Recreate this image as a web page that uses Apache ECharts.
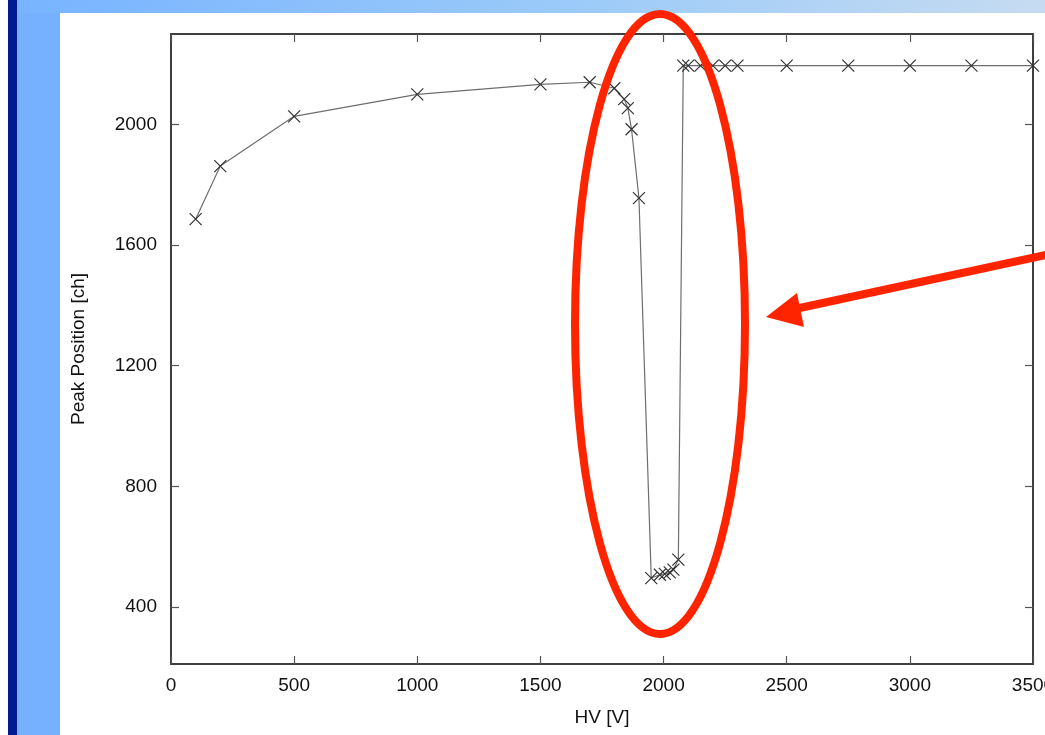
<!DOCTYPE html>
<html>
<head>
<meta charset="utf-8">
<script src="https://cdn.jsdelivr.net/npm/echarts@6/dist/echarts.min.js"></script>
<style>
html,body{margin:0;padding:0;background:#fff;}
#chart{width:1045px;height:735px;}
</style>
</head>
<body>
<div id="chart"></div>
<script>
// HV [V]
const hvValues = [100, 200, 500, 1000, 1500, 1700, 1800, 1840, 1855, 1870, 1900,
  1950, 1985, 2005, 2025, 2040, 2060,
  2080, 2100, 2150, 2200, 2250, 2300, 2500, 2750, 3000, 3250, 3500];
// Peak Position [ch]
const peakValues = [1686, 1862, 2027, 2100, 2133, 2140, 2120, 2084, 2054, 1984, 1756,
  496, 507, 510, 515, 524, 557,
  2195, 2195, 2195, 2195, 2195, 2195, 2195, 2195, 2195, 2195, 2195];
const yTickLabels = [400, 800, 1200, 1600, 2000];
const xTickStep = 500;

const FONT = '"Liberation Sans", Arial, Helvetica, sans-serif';
const chart = echarts.init(document.getElementById('chart'), null, {renderer: 'canvas'});

const axisLineStyle = {color: '#333', width: 1.5};
const tickStyle = {color: '#555', width: 1.2};
const plain = v => String(v);

const option = {
  animation: false,
  backgroundColor: '#ffffff',
  grid: {left: 171, right: 12, top: 34, bottom: 71, containLabel: false, outerBoundsMode: 'none',
         show: true, borderColor: '#333', borderWidth: 1.5},
  xAxis: [
    {type: 'value', position: 'bottom', min: 0, max: 3500, interval: xTickStep,
     axisLine: {show: true, onZero: false, lineStyle: axisLineStyle},
     axisTick: {show: true, inside: true, length: 8, lineStyle: tickStyle},
     axisLabel: {show: true, fontSize: 19, color: '#111', fontFamily: FONT, margin: 12, formatter: plain,
                 hideOverlap: false, showMinLabel: true, showMaxLabel: true},
     splitLine: {show: false},
     name: 'HV [V]', nameLocation: 'middle', nameGap: 44,
     nameTextStyle: {fontSize: 19, color: '#111', fontFamily: FONT}},
    {type: 'value', position: 'top', min: 0, max: 3500, interval: xTickStep,
     axisLine: {show: true, onZero: false, lineStyle: axisLineStyle},
     axisTick: {show: true, inside: true, length: 8, lineStyle: tickStyle},
     axisLabel: {show: false}, splitLine: {show: false}}
  ],
  yAxis: [
    {type: 'value', position: 'left', min: 211, max: 2300,
     axisLine: {show: true, onZero: false, lineStyle: axisLineStyle},
     axisTick: {show: true, inside: true, length: 8, lineStyle: tickStyle, customValues: yTickLabels},
     axisLabel: {show: true, fontSize: 19, color: '#111', fontFamily: FONT, margin: 14, formatter: plain,
                 customValues: yTickLabels},
     splitLine: {show: false},
     name: 'Peak Position [ch]', nameLocation: 'middle', nameGap: 83, nameRotate: 90,
     nameTextStyle: {fontSize: 19, color: '#111', fontFamily: FONT}},
    {type: 'value', position: 'right', min: 211, max: 2300,
     axisLine: {show: true, onZero: false, lineStyle: axisLineStyle},
     axisTick: {show: true, inside: true, length: 8, lineStyle: tickStyle, customValues: yTickLabels},
     axisLabel: {show: false, customValues: yTickLabels}, splitLine: {show: false}}
  ],
  series: [{
    type: 'line',
    xAxisIndex: 0, yAxisIndex: 0,
    data: hvValues.map((v, i) => [v, peakValues[i]]),
    showAllSymbol: true,
    symbol: 'path://M0,0L10,10M10,0L0,10',
    symbolSize: 12,
    lineStyle: {color: '#6e6e6e', width: 1.2},
    itemStyle: {color: 'transparent', borderColor: '#333', borderWidth: 1.2},
    emphasis: {disabled: true},
    z: 3
  }],
  graphic: [
    // slide background
    {type: 'rect', z: -10, silent: true, shape: {x: 8, y: 0, width: 9, height: 735}, style: {fill: '#001a8f'}},
    {type: 'rect', z: -10, silent: true, shape: {x: 17, y: 0, width: 43, height: 735}, style: {fill: '#76b1ff'}},
    {type: 'rect', z: -10, silent: true, shape: {x: 17, y: 0, width: 1028, height: 13},
     style: {fill: new echarts.graphic.LinearGradient(0, 0, 1, 0, [
       {offset: 0, color: '#77b3ff'}, {offset: 0.55, color: '#9ccbf9'}, {offset: 1, color: '#c6dbf1'}])}},
    // annotation: red ellipse
    {type: 'ellipse', z: 100, silent: true, shape: {cx: 660, cy: 324, rx: 85, ry: 310},
     style: {fill: 'none', stroke: '#ff2400', lineWidth: 8}},
    // annotation: red arrow
    {type: 'line', z: 100, silent: true, shape: {x1: 1050, y1: 254, x2: 795, y2: 309},
     style: {stroke: '#ff2400', lineWidth: 8}},
    {type: 'polygon', z: 100, silent: true, shape: {points: [[766, 317], [797, 293], [804, 327]]},
     style: {fill: '#ff2400'}}
  ]
};
chart.setOption(option);
</script>
</body>
</html>
